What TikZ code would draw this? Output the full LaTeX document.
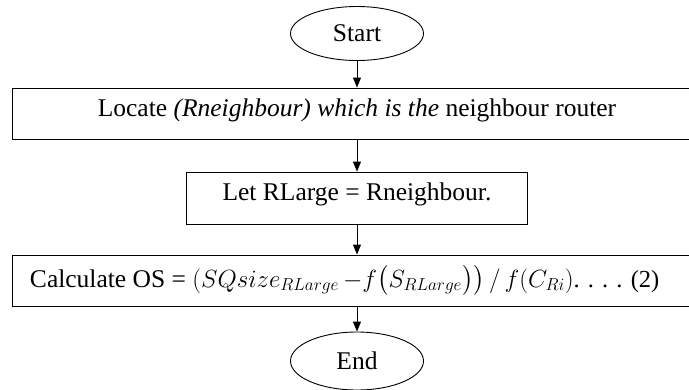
\documentclass[tikz,border=0pt]{standalone}
\usepackage{amsmath}
\usepackage{fontspec}
\setmainfont{Liberation Serif}
\usepackage{tikz}
\usetikzlibrary{arrows.meta,shapes.geometric}

\begin{document}
\begin{tikzpicture}[->,>={Triangle[length=10pt,width=8pt]},x=1pt,y=-1pt,
        line width=0.9pt,font=\fontsize{25.5}{28}\selectfont,
        term/.style={draw,ellipse,inner sep=0pt,minimum width=133pt},
        stepbox/.style={draw,rectangle,inner ysep=0pt,inner xsep=0pt}]

  \useasboundingbox (0,0) rectangle (689,389);
  \clip (0,0) rectangle (689,389);

  \node[term,minimum height=54pt] (start) at (357,33.5) {Start};
  \node[stepbox,minimum width=690pt,minimum height=51pt,
        text height=14pt,text depth=9pt] (locate) at (357,113.5)
        {Locate \textit{(Rneighbour) which is the} neighbour router};
  \node[stepbox,minimum width=341pt,minimum height=52pt,
        text height=13pt,text depth=9pt] (let) at (357,198)
        {Let RLarge = Rneighbour.};
  \node[stepbox,minimum width=690pt,minimum height=51pt,
        text height=17pt,text depth=4pt] (calc) at (357,280.5)
        {\makebox[654pt][l]{Calculate OS = {\fontsize{24.5}{28}\selectfont
        $(SQsize_{RLarge}\,{-}f\bigl(S_{RLarge}\bigr)\bigr)\,/\,f(C_{Ri})$. . . . (2)}}};
  \node[term,minimum height=58pt] (end) at (357,361) {End};

  \path (start) edge (locate)
        (locate) edge (let)
        (let) edge (calc)
        (calc) edge (end);

\end{tikzpicture}
\end{document}
